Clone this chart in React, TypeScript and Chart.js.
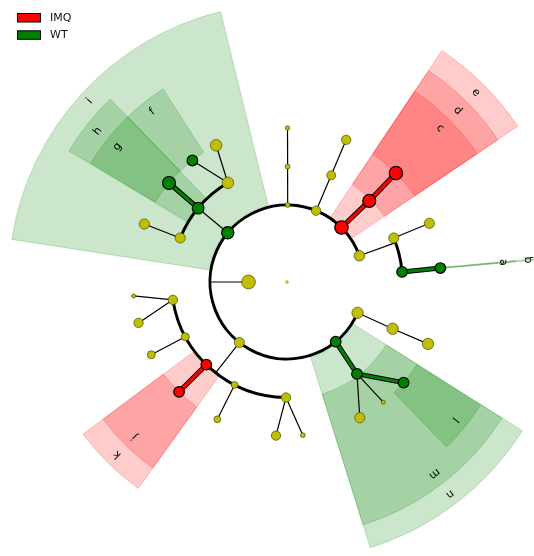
import React, { useEffect, useRef } from "react";
import { Chart, registerables } from "chart.js";

Chart.register(...registerables);

// Taxonomy tree (index = node). Depth 0 is the root at the centre.
const nodeParent = [
  -1, 0,
  1, 1, 1, 1, 1, 1, 1, 1,
  2, 3, 4, 5, 5, 6, 7, 8, 8, 8, 8, 8, 9, 9, 9,
  10, 11, 12, 13, 14, 15, 16, 16, 16, 17, 17, 18, 19, 20, 21, 21, 22, 23, 24, 24,
];
const nodeDepth = [
  0, 1,
  2, 2, 2, 2, 2, 2, 2, 2,
  3, 3, 3, 3, 3, 3, 3, 3, 3, 3, 3, 3, 3, 3, 3,
  4, 4, 4, 4, 4, 4, 4, 4, 4, 4, 4, 4, 4, 4, 4, 4, 4, 4, 4, 4,
];
// angular position, degrees clockwise from 12 o'clock
const nodeAngle = [
  0, 270,
  0.5, 22.2, 45, 70.1, 113.6, 140.8, 218.2, 309.7,
  0.3, 22.5, 45.4, 67.6, 85, 113.9, 142.7, 261.1, 241.7, 224.3, 207, 180.5, 292.4, 309.7, 329.2,
  0.2, 22.6, 45, 67.6, 84.8, 113.7, 130.8, 141.3, 151.8, 264.8, 254.6, 241.8, 224.5, 206.9, 184.1, 174.1, 292.1, 310, 322.1, 332.6,
];
// relative abundance score (drives node size)
const nodeAbundance = [
  2.2, 7.4,
  2.9, 5.2, 7.2, 5.8, 6.2, 5.8, 5.6, 6.6,
  3.0, 5.0, 7.0, 5.6, 5.8, 6.2, 5.8, 5.2, 4.5, 5.8, 3.9, 5.2, 5.6, 6.3, 6.3,
  2.7, 5.2, 7.2, 5.6, 5.8, 6.2, 5.8, 2.5, 5.6, 2.5, 5.2, 4.5, 5.8, 3.9, 5.2, 2.9, 5.6, 7.0, 5.8, 6.3,
];
// class in which the taxon is enriched ("" = not significant)
const nodeClass = [
  "", "",
  "", "", "IMQ", "", "", "WT", "", "WT",
  "", "", "IMQ", "", "WT", "", "WT", "", "", "IMQ", "", "", "", "WT", "",
  "", "", "IMQ", "", "WT", "", "WT", "", "", "", "", "", "IMQ", "", "", "", "", "WT", "WT", "",
];

// Highlighted biomarker clades
const cladeLetter = ["a", "b", "c", "d", "e", "f", "g", "h", "i", "j", "k", "l", "m", "n"];
const cladeNode = [29, 14, 27, 12, 4, 43, 42, 23, 9, 37, 19, 31, 16, 7];
const cladeFrom = [84.65, 84.65, 33.8, 33.8, 33.8, 316, 301.2, 301, 278.8, 215.8, 215.8, 122.6, 122.3, 122.3];
const cladeTo = [84.95, 84.95, 56, 56, 56, 327.3, 316, 316, 346.2, 233.3, 233.3, 136, 162.6, 162.6];

const classNames = ["IMQ", "WT"];

// ---- styling ----
const RING = 38.5;
const CLASS_RGB: Record<string, string> = { IMQ: "255,0,0", WT: "0,128,0" };
const NODE_YELLOW = "#bfbf00";
const SECTOR_INNER = [0, 0, 79, 117.5, 154];
const SECTOR_OUTER = [0, 0, 278.5, 254.5, 229.5];
const LABEL_R = [0, 0, 267.5, 242, 217];
const FONT = "DejaVu Sans, Verdana, sans-serif";

const rad = (deg: number) => (deg * Math.PI) / 180;

function toPx(chart: any, deg: number, r: number): [number, number] {
  const t = rad(deg);
  return [
    chart.scales.x.getPixelForValue(r * Math.sin(t)),
    chart.scales.y.getPixelForValue(r * Math.cos(t)),
  ];
}
function lenPx(chart: any, r: number) {
  return chart.scales.x.getPixelForValue(r) - chart.scales.x.getPixelForValue(0);
}

const cladogramPlugin = {
  id: "cladogram",
  beforeDatasetsDraw(chart: any) {
    const ctx: CanvasRenderingContext2D = chart.ctx;
    const [cx, cy] = toPx(chart, 0, 0);
    ctx.save();

    // clade sectors, outermost first
    const order = cladeLetter.map((_, i) => i).sort((a, b) => nodeDepth[cladeNode[a]] - nodeDepth[cladeNode[b]]);
    for (const i of order) {
      const n = cladeNode[i];
      const d = nodeDepth[n];
      const rgb = CLASS_RGB[nodeClass[n]];
      const a0 = rad(cladeFrom[i] - 90);
      const a1 = rad(cladeTo[i] - 90);
      const ri = lenPx(chart, SECTOR_INNER[d]);
      const ro = lenPx(chart, SECTOR_OUTER[d]);
      ctx.beginPath();
      ctx.arc(cx, cy, ro, a0, a1, false);
      ctx.arc(cx, cy, ri, a1, a0, true);
      ctx.closePath();
      ctx.fillStyle = `rgba(${rgb},0.2)`;
      ctx.fill();
      ctx.strokeStyle = `rgba(${rgb},0.2)`;
      ctx.lineWidth = 1;
      ctx.stroke();
    }

    // tree edges
    const kids: number[][] = nodeParent.map(() => []);
    nodeParent.forEach((p, i) => { if (p >= 0) kids[p].push(i); });
    const thin: [number, number, number, number][] = [];
    const arcs: [number, number, number][] = [];
    const colored: [number, number, number, number, string][] = [];

    nodeParent.forEach((_, p) => {
      const ch = kids[p];
      if (nodeDepth[p] < 1 || ch.length === 0) return;
      const rp = nodeDepth[p] * RING;
      if (ch.length > 1 && nodeDepth[p] <= 2) {
        const rc = nodeDepth[ch[0]] * RING;
        const [x0, y0] = toPx(chart, nodeAngle[p], rp);
        const [x1, y1] = toPx(chart, nodeAngle[p], rc);
        thin.push([x0, y0, x1, y1]);
        let lo = 999, hi = -999;
        for (const c of ch) {
          let rel = nodeAngle[c] - nodeAngle[p];
          while (rel > 180) rel -= 360;
          while (rel <= -180) rel += 360;
          lo = Math.min(lo, rel);
          hi = Math.max(hi, rel);
        }
        arcs.push([lenPx(chart, rc), nodeAngle[p] + lo, nodeAngle[p] + hi]);
      } else {
        for (const c of ch) {
          const [x0, y0] = toPx(chart, nodeAngle[p], rp);
          const [x1, y1] = toPx(chart, nodeAngle[c], nodeDepth[c] * RING);
          if (nodeClass[p] && nodeClass[p] === nodeClass[c]) colored.push([x0, y0, x1, y1, CLASS_RGB[nodeClass[c]]]);
          else thin.push([x0, y0, x1, y1]);
        }
      }
    });

    ctx.lineCap = "butt";
    ctx.strokeStyle = "#000";
    ctx.lineWidth = 1.2;
    for (const [x0, y0, x1, y1] of thin) {
      ctx.beginPath();
      ctx.moveTo(x0, y0);
      ctx.lineTo(x1, y1);
      ctx.stroke();
    }
    ctx.lineWidth = 3;
    for (const [r, a0, a1] of arcs) {
      ctx.beginPath();
      ctx.arc(cx, cy, r, rad(a0 - 90), rad(a1 - 90), false);
      ctx.stroke();
    }
    for (const [x0, y0, x1, y1, rgb] of colored) {
      ctx.beginPath();
      ctx.moveTo(x0, y0);
      ctx.lineTo(x1, y1);
      ctx.strokeStyle = "#000";
      ctx.lineWidth = 5;
      ctx.stroke();
      ctx.strokeStyle = `rgb(${rgb})`;
      ctx.lineWidth = 3;
      ctx.stroke();
    }
    ctx.restore();
  },
  afterDatasetsDraw(chart: any) {
    const ctx: CanvasRenderingContext2D = chart.ctx;
    ctx.save();
    // clade letters
    ctx.font = `11px ${FONT}`;
    ctx.fillStyle = "#000";
    ctx.textAlign = "center";
    ctx.textBaseline = "middle";
    cladeLetter.forEach((lab, i) => {
      const d = nodeDepth[cladeNode[i]];
      const mid = (cladeFrom[i] + cladeTo[i]) / 2;
      const [x, y] = toPx(chart, mid, LABEL_R[d]);
      ctx.save();
      ctx.translate(x, y);
      ctx.rotate(rad(mid));
      ctx.fillText(lab, 0, 0);
      ctx.restore();
    });

    // class legend
    ctx.font = `11px ${FONT}`;
    ctx.textAlign = "left";
    classNames.forEach((name, i) => {
      const y = 13.5 + i * 17.3;
      ctx.fillStyle = `rgb(${CLASS_RGB[name]})`;
      ctx.fillRect(17.5, y, 23, 8.5);
      ctx.strokeStyle = "#000";
      ctx.lineWidth = 1;
      ctx.strokeRect(17.5, y, 23, 8.5);
      ctx.fillStyle = "#111";
      ctx.fillText(name, 50, y + 4.8);
    });
    ctx.restore();
  },
};

export default function App() {
  const ref = useRef<HTMLCanvasElement | null>(null);

  useEffect(() => {
    const canvas = ref.current;
    if (!canvas) return;
    const points = nodeAngle.map((a, i) => {
      const r = nodeDepth[i] * RING;
      return { x: r * Math.sin(rad(a)), y: r * Math.cos(rad(a)) };
    });
    const radii = nodeAbundance.map((v) => Math.max(1.5, v - 0.5));
    const fills = nodeClass.map((c) => (c ? `rgb(${CLASS_RGB[c]})` : NODE_YELLOW));
    const borders = nodeClass.map((c) => (c ? "#000" : "rgba(70,70,0,0.85)"));
    const borderW = nodeClass.map((c, i) => (i === 0 ? 0 : c ? 1.2 : 0.8));

    const chart = new Chart(canvas, {
      type: "scatter",
      data: {
        datasets: [
          {
            data: points,
            pointRadius: radii,
            pointHoverRadius: radii,
            pointBackgroundColor: fills,
            pointBorderColor: borders,
            pointBorderWidth: borderW,
            pointHoverBorderWidth: borderW,
            clip: false,
          },
        ],
      },
      options: {
        animation: false,
        responsive: false,
        events: [],
        layout: { padding: 0, autoPadding: false },
        plugins: { legend: { display: false }, tooltip: { enabled: false } },
        scales: {
          x: { type: "linear", min: -287, max: 247, display: false },
          y: { type: "linear", min: -274, max: 282, display: false },
        },
      },
      plugins: [cladogramPlugin],
    });
    return () => chart.destroy();
  }, []);

  return (
    <div style={{ position: "absolute", left: 0, top: 0, width: 534, height: 556, background: "#fff" }}>
      <canvas ref={ref} width={534} height={556} style={{ display: "block" }} />
    </div>
  );
}
